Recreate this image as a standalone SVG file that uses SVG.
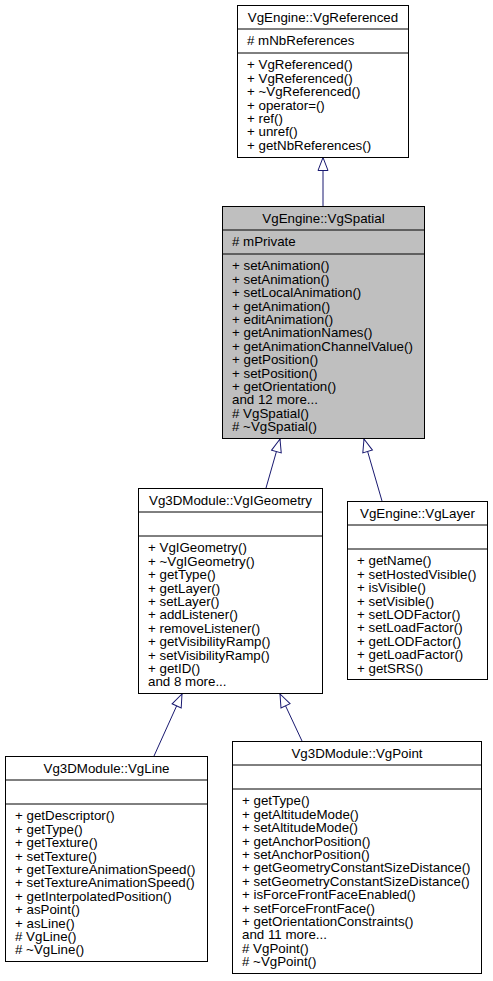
<svg xmlns="http://www.w3.org/2000/svg" width="493" height="981" viewBox="0 0 493 981">
<style>
.t{font-family:"Liberation Sans",Arial,Helvetica,sans-serif;font-size:13.33px;fill:#000}
.c{text-anchor:middle}
.b{fill:#fff;stroke:#000;stroke-width:1}
.g{fill:#bfbfbf}
.d{stroke:#000;stroke-width:1}
.e{stroke:#191970;stroke-width:1;fill:none}
</style>
<defs>
<marker id="ah" markerUnits="userSpaceOnUse" markerWidth="16" markerHeight="14" viewBox="-2 -7 16 14" refX="13" refY="0" orient="auto">
<path d="M0,-5 L13,0 L0,5 Z" fill="#fff" stroke="#191970" stroke-width="1"/>
</marker>
</defs>
<rect x="0" y="0" width="493" height="981" fill="#fff"/>
<g id="edges">
<line class="e" x1="323" y1="206" x2="323" y2="157.5" marker-end="url(#ah)"/>
<line class="e" x1="266" y1="488" x2="280" y2="439" marker-end="url(#ah)"/>
<line class="e" x1="382" y1="501" x2="364" y2="439" marker-end="url(#ah)"/>
<line class="e" x1="154" y1="756" x2="182" y2="694" marker-end="url(#ah)"/>
<line class="e" x1="302" y1="741" x2="280" y2="694" marker-end="url(#ah)"/>
</g>
<g id="VgReferenced">
<rect class="b" x="237.5" y="5.5" width="171" height="152"/>
<line class="d" x1="237.5" y1="29" x2="408.5" y2="29"/>
<line class="d" x1="237.5" y1="53" x2="408.5" y2="53"/>
<text class="t c" x="323" y="21.5">VgEngine::VgReferenced</text>
<text class="t" x="247" y="45.4"># mNbReferences</text>
<text class="t" x="247" y="69.3"><tspan x="247">+ VgReferenced()</tspan><tspan x="247" dy="13.4">+ VgReferenced()</tspan><tspan x="247" dy="13.4">+ ~VgReferenced()</tspan><tspan x="247" dy="13.4">+ operator=()</tspan><tspan x="247" dy="13.4">+ ref()</tspan><tspan x="247" dy="13.4">+ unref()</tspan><tspan x="247" dy="13.4">+ getNbReferences()</tspan></text>
</g>
<g id="VgSpatial">
<rect class="b g" x="222.5" y="206.5" width="202" height="232"/>
<line class="d" x1="222.5" y1="230" x2="424.5" y2="230"/>
<line class="d" x1="222.5" y1="254" x2="424.5" y2="254"/>
<text class="t c" x="323.5" y="222.5">VgEngine::VgSpatial</text>
<text class="t" x="232" y="246.4"># mPrivate</text>
<text class="t" x="232" y="270.3"><tspan x="232">+ setAnimation()</tspan><tspan x="232" dy="13.4">+ setAnimation()</tspan><tspan x="232" dy="13.4">+ setLocalAnimation()</tspan><tspan x="232" dy="13.4">+ getAnimation()</tspan><tspan x="232" dy="13.4">+ editAnimation()</tspan><tspan x="232" dy="13.4">+ getAnimationNames()</tspan><tspan x="232" dy="13.4">+ getAnimationChannelValue()</tspan><tspan x="232" dy="13.4">+ getPosition()</tspan><tspan x="232" dy="13.4">+ setPosition()</tspan><tspan x="232" dy="13.4">+ getOrientation()</tspan><tspan x="232" dy="13.4">and 12 more...</tspan><tspan x="232" dy="13.4"># VgSpatial()</tspan><tspan x="232" dy="13.4"># ~VgSpatial()</tspan></text>
</g>
<g id="VgIGeometry">
<rect class="b" x="138.5" y="488.5" width="184" height="205"/>
<line class="d" x1="138.5" y1="512" x2="322.5" y2="512"/>
<line class="d" x1="138.5" y1="536" x2="322.5" y2="536"/>
<text class="t c" x="230.5" y="504.5">Vg3DModule::VgIGeometry</text>
<text class="t" x="148" y="552.3"><tspan x="148">+ VgIGeometry()</tspan><tspan x="148" dy="13.4">+ ~VgIGeometry()</tspan><tspan x="148" dy="13.4">+ getType()</tspan><tspan x="148" dy="13.4">+ getLayer()</tspan><tspan x="148" dy="13.4">+ setLayer()</tspan><tspan x="148" dy="13.4">+ addListener()</tspan><tspan x="148" dy="13.4">+ removeListener()</tspan><tspan x="148" dy="13.4">+ getVisibilityRamp()</tspan><tspan x="148" dy="13.4">+ setVisibilityRamp()</tspan><tspan x="148" dy="13.4">+ getID()</tspan><tspan x="148" dy="13.4">and 8 more...</tspan></text>
</g>
<g id="VgLayer">
<rect class="b" x="347.5" y="501.5" width="140" height="178"/>
<line class="d" x1="347.5" y1="525" x2="487.5" y2="525"/>
<line class="d" x1="347.5" y1="549" x2="487.5" y2="549"/>
<text class="t c" x="417.5" y="517.5">VgEngine::VgLayer</text>
<text class="t" x="357" y="565.3"><tspan x="357">+ getName()</tspan><tspan x="357" dy="13.4">+ setHostedVisible()</tspan><tspan x="357" dy="13.4">+ isVisible()</tspan><tspan x="357" dy="13.4">+ setVisible()</tspan><tspan x="357" dy="13.4">+ setLODFactor()</tspan><tspan x="357" dy="13.4">+ setLoadFactor()</tspan><tspan x="357" dy="13.4">+ getLODFactor()</tspan><tspan x="357" dy="13.4">+ getLoadFactor()</tspan><tspan x="357" dy="13.4">+ getSRS()</tspan></text>
</g>
<g id="VgLine">
<rect class="b" x="5.5" y="756.5" width="202" height="205"/>
<line class="d" x1="5.5" y1="780" x2="207.5" y2="780"/>
<line class="d" x1="5.5" y1="804" x2="207.5" y2="804"/>
<text class="t c" x="106.5" y="772.5">Vg3DModule::VgLine</text>
<text class="t" x="15" y="820.3"><tspan x="15">+ getDescriptor()</tspan><tspan x="15" dy="13.4">+ getType()</tspan><tspan x="15" dy="13.4">+ getTexture()</tspan><tspan x="15" dy="13.4">+ setTexture()</tspan><tspan x="15" dy="13.4">+ getTextureAnimationSpeed()</tspan><tspan x="15" dy="13.4">+ setTextureAnimationSpeed()</tspan><tspan x="15" dy="13.4">+ getInterpolatedPosition()</tspan><tspan x="15" dy="13.4">+ asPoint()</tspan><tspan x="15" dy="13.4">+ asLine()</tspan><tspan x="15" dy="13.4"># VgLine()</tspan><tspan x="15" dy="13.4"># ~VgLine()</tspan></text>
</g>
<g id="VgPoint">
<rect class="b" x="232.5" y="741.5" width="249" height="232"/>
<line class="d" x1="232.5" y1="765" x2="481.5" y2="765"/>
<line class="d" x1="232.5" y1="789" x2="481.5" y2="789"/>
<text class="t c" x="357" y="757.5">Vg3DModule::VgPoint</text>
<text class="t" x="242" y="805.3"><tspan x="242">+ getType()</tspan><tspan x="242" dy="13.4">+ getAltitudeMode()</tspan><tspan x="242" dy="13.4">+ setAltitudeMode()</tspan><tspan x="242" dy="13.4">+ getAnchorPosition()</tspan><tspan x="242" dy="13.4">+ setAnchorPosition()</tspan><tspan x="242" dy="13.4">+ getGeometryConstantSizeDistance()</tspan><tspan x="242" dy="13.4">+ setGeometryConstantSizeDistance()</tspan><tspan x="242" dy="13.4">+ isForceFrontFaceEnabled()</tspan><tspan x="242" dy="13.4">+ setForceFrontFace()</tspan><tspan x="242" dy="13.4">+ getOrientationConstraints()</tspan><tspan x="242" dy="13.4">and 11 more...</tspan><tspan x="242" dy="13.4"># VgPoint()</tspan><tspan x="242" dy="13.4"># ~VgPoint()</tspan></text>
</g>
</svg>
